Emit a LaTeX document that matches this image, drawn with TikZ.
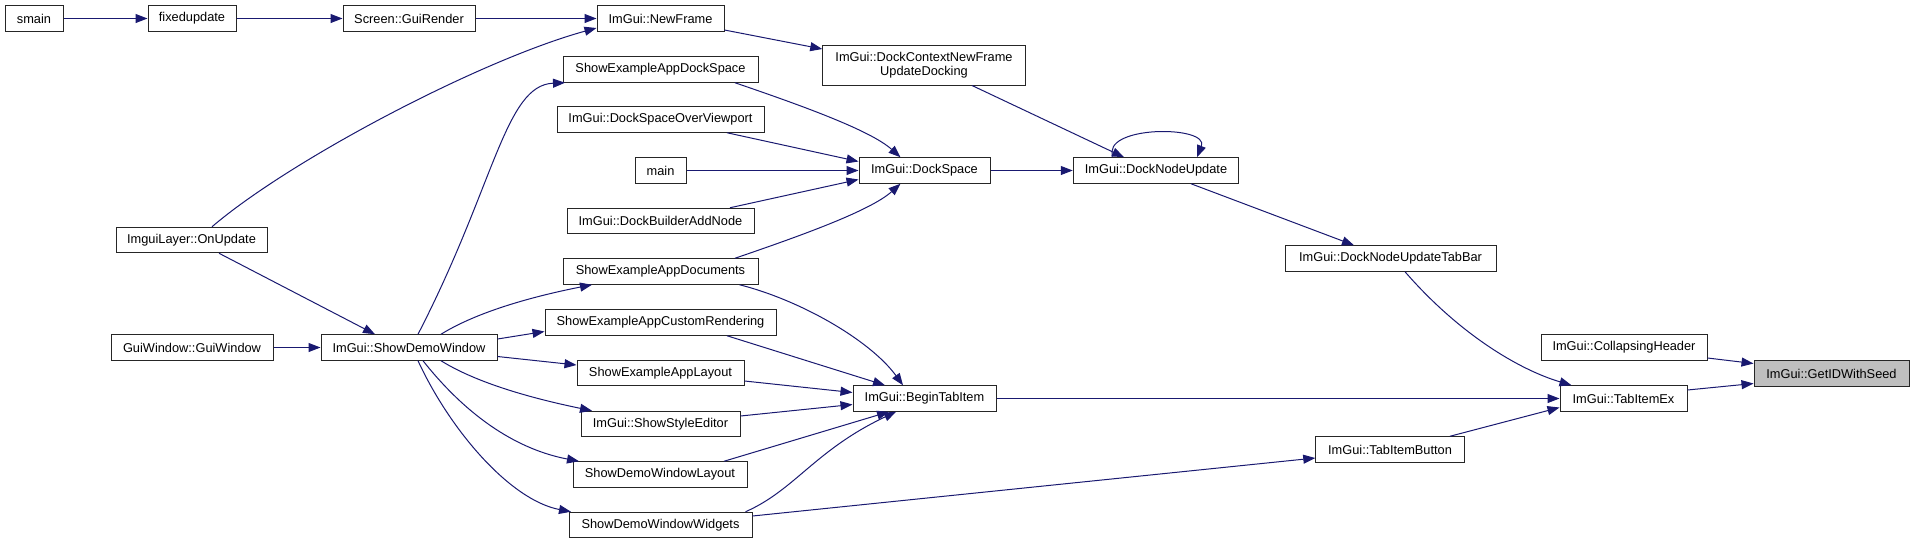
\documentclass[tikz,border=0pt]{standalone}
\usepackage{fontspec}
\setmainfont{Liberation Sans}
\usetikzlibrary{arrows.meta,calc}
\definecolor{edgeblue}{HTML}{191970}
\definecolor{hilite}{HTML}{BFBFBF}
\begin{document}
\begin{tikzpicture}[x=1pt,y=-1pt,
  fn/.style={draw=black!85,line width=1pt,fill=white,minimum height=25.5pt,inner sep=0pt,
    font=\fontsize{12.8}{14.5}\selectfont,align=center},
  cur/.style={fn,fill=hilite},
  call/.style={draw=edgeblue,line width=1pt,-{Triangle[length=12pt,width=9pt]},fill=none},
]
\useasboundingbox (0,0) rectangle (1915,544);
% nodes
\node[fn,minimum width=58pt] (smain) at (34,18.5) {smain};
\node[fn,minimum width=88pt] (fixed) at (192,18.5) {fixedupdate};
\node[fn,minimum width=132pt] (guirender) at (409,18.5) {Screen::GuiRender};
\node[fn,minimum width=127pt] (newframe) at (660.5,18.5) {ImGui::NewFrame};
\node[fn,minimum width=151pt] (onupd) at (191.5,240) {ImguiLayer::OnUpdate};
\node[fn,minimum width=162pt] (guiwin) at (192,347.5) {GuiWindow::GuiWindow};
\node[fn,minimum width=176pt] (sdw) at (409,347.5) {ImGui::ShowDemoWindow};
\node[fn,minimum width=195pt] (ads) at (660.5,69.5) {ShowExampleAppDockSpace};
\node[fn,minimum width=207pt] (dsov) at (660.5,119.5) {ImGui::DockSpaceOverViewport};
\node[fn,minimum width=51pt] (main) at (660.5,170.5) {main};
\node[fn,minimum width=187pt] (dban) at (660.5,221) {ImGui::DockBuilderAddNode};
\node[fn,minimum width=195pt] (adoc) at (660.5,271.5) {ShowExampleAppDocuments};
\node[fn,minimum width=231pt] (cr) at (660.5,322.5) {ShowExampleAppCustomRendering};
\node[fn,minimum width=167pt] (al) at (660.5,373) {ShowExampleAppLayout};
\node[fn,minimum width=159pt] (sse) at (660.5,424) {ImGui::ShowStyleEditor};
\node[fn,minimum width=174pt] (dwl) at (660,474.5) {ShowDemoWindowLayout};
\node[fn,minimum width=183pt] (dww) at (660.5,525) {ShowDemoWindowWidgets};
\node[fn,minimum width=202.5pt,minimum height=40pt] (dcnf) at (924,65) {ImGui::DockContextNewFrame\\UpdateDocking};
\node[fn,minimum width=131pt] (dockspace) at (924.5,170.5) {ImGui::DockSpace};
\node[fn,minimum width=165.5pt] (dnu) at (1156,170.5) {ImGui::DockNodeUpdate};
\node[fn,minimum width=211pt] (dnutb) at (1390.5,258.5) {ImGui::DockNodeUpdateTabBar};
\node[fn,minimum width=143pt] (bti) at (924.5,398.5) {ImGui::BeginTabItem};
\node[fn,minimum width=148.5pt] (tib) at (1390,449.5) {ImGui::TabItemButton};
\node[fn,minimum width=166pt] (ch) at (1624,347.5) {ImGui::CollapsingHeader};
\node[fn,minimum width=127pt] (tie) at (1623.5,398.5) {ImGui::TabItemEx};
\node[cur,minimum width=155pt] (gid) at (1831.5,373.5) {ImGui::GetIDWithSeed};
% edges
\draw[call] (smain.east) -- (fixed.west);
\draw[call] (fixed.east) -- (guirender.west);
\draw[call] (guirender.east) -- (newframe.west);
\draw[call] ([xshift=20.5pt]onupd.north) .. controls (290,160) and (480,60) .. ([yshift=-9.5pt]newframe.west);
\draw[call] ([yshift=-11.5pt]newframe.east) -- ([yshift=16pt]dcnf.west);
\draw[call] ([xshift=74.5pt]ads.south) .. controls (800,105) and (870,130) .. ([xshift=-24pt]dockspace.north);
\draw[call] ([xshift=66.5pt]dsov.south) -- ([yshift=9pt]dockspace.west);
\draw[call] (main.east) -- (dockspace.west);
\draw[call] ([xshift=69.5pt]dban.north) -- ([yshift=-9pt]dockspace.west);
\draw[call] ([xshift=74.5pt]adoc.north) .. controls (800,236) and (870,211) .. ([xshift=-24pt]dockspace.south);
\draw[call] (dockspace.east) -- (dnu.west);
\draw[call] ([xshift=48pt]dcnf.south) -- ([xshift=-32pt]dnu.north);
\draw[call] ([xshift=-43pt]dnu.north) .. controls (1100,125) and (1210,125) .. ([xshift=41pt]dnu.north);
\draw[call] ([xshift=35pt]dnu.south) -- ([xshift=-36.5pt]dnutb.north);
\draw[call] ([xshift=14.5pt]dnutb.south) .. controls (1460,335) and (1520,370) .. ([xshift=-52pt]tie.north);
\draw[call] ([yshift=-10.5pt]ch.east) -- ([yshift=10pt]gid.west);
\draw[call] ([yshift=8.5pt]tie.east) -- ([yshift=-10pt]gid.west);
\draw[call] (bti.east) -- (tie.west);
\draw[call] ([xshift=60pt]tib.north) -- ([yshift=-9pt]tie.west);
\draw[call] ([yshift=9pt]dww.east) -- ([yshift=-8.5pt]tib.west);
\draw[call] (guiwin.east) -- (sdw.west);
\draw[call] ([xshift=27.5pt]onupd.south) -- ([xshift=-34pt]sdw.north);
\draw[call] ([xshift=9pt]sdw.north) .. controls (495,185) and (505,85) .. ([xshift=-95.5pt]ads.south);
\draw[call] ([xshift=32pt]sdw.north) .. controls (480,310) and (540,295) .. ([xshift=-68.5pt]adoc.south);
\draw[call] ([yshift=8.5pt]sdw.east) -- ([yshift=-9pt]cr.west);
\draw[call] ([yshift=-9pt]sdw.east) -- ([yshift=8pt]al.west);
\draw[call] ([xshift=32pt]sdw.south) .. controls (480,385) and (540,400) .. ([xshift=-68.5pt]sse.north);
\draw[call] ([xshift=14pt]sdw.south) .. controls (470,420) and (520,450) .. ([xshift=-81pt]dwl.north);
\draw[call] ([xshift=9pt]sdw.south) .. controls (450,430) and (510,500) .. ([xshift=-89.5pt]dww.north);
\draw[call] ([xshift=79pt]adoc.south) .. controls (800,300) and (870,340) .. ([xshift=-21.5pt]bti.north);
\draw[call] ([xshift=66.5pt]cr.south) -- ([xshift=-39.5pt]bti.north);
\draw[call] ([yshift=-8pt]al.east) -- ([yshift=6pt]bti.west);
\draw[call] ([yshift=8pt]sse.east) -- ([yshift=-6pt]bti.west);
\draw[call] ([xshift=64pt]dwl.north) -- ([xshift=-35.5pt]bti.south);
\draw[call] ([xshift=85pt]dww.north) .. controls (795,490) and (815,450) .. ([xshift=-28.5pt]bti.south);
\end{tikzpicture}
\end{document}
